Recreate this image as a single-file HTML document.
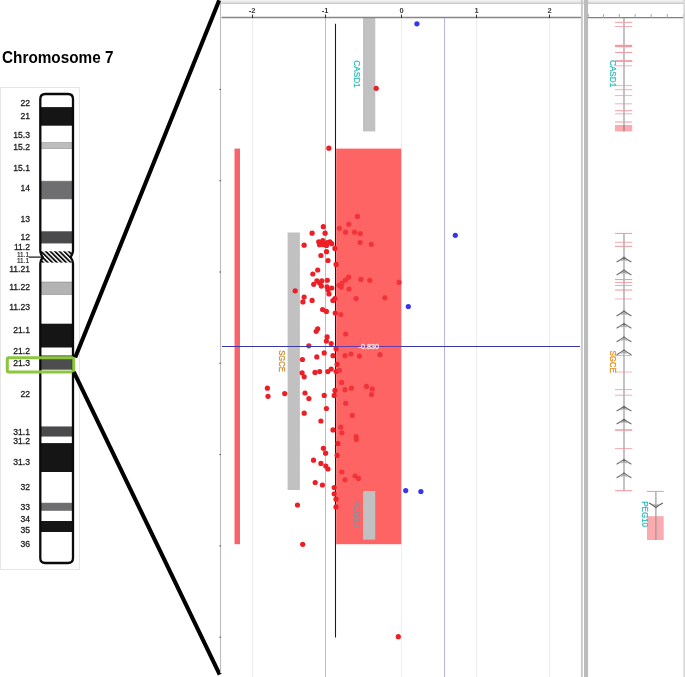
<!DOCTYPE html>
<html><head><meta charset="utf-8"><title>Chromosome 7</title>
<style>
html,body{margin:0;padding:0;background:#fff;}
body{width:685px;height:677px;overflow:hidden;font-family:"Liberation Sans",sans-serif;}
svg{display:block;}
text{font-family:"Liberation Sans",sans-serif;}
</style></head><body>
<svg width="685" height="677" viewBox="0 0 685 677">
<rect width="685" height="677" fill="#fff"/>

<rect x="0.5" y="87.5" width="79" height="482" fill="#fff" stroke="#e6e6e6" stroke-width="1"/>
<text x="2" y="62.8" font-size="16.4" font-weight="bold" fill="#000" textLength="111.5" lengthAdjust="spacingAndGlyphs">Chromosome 7</text>
<text x="30" y="105.7" font-size="8.6" text-anchor="end" fill="#1c1c1c" stroke="#1c1c1c" stroke-width="0.28">22</text>
<text x="30" y="119.0" font-size="8.6" text-anchor="end" fill="#1c1c1c" stroke="#1c1c1c" stroke-width="0.28">21</text>
<text x="30" y="137.6" font-size="8.6" text-anchor="end" fill="#1c1c1c" stroke="#1c1c1c" stroke-width="0.28">15.3</text>
<text x="30" y="150.1" font-size="8.6" text-anchor="end" fill="#1c1c1c" stroke="#1c1c1c" stroke-width="0.28">15.2</text>
<text x="30" y="171.0" font-size="8.6" text-anchor="end" fill="#1c1c1c" stroke="#1c1c1c" stroke-width="0.28">15.1</text>
<text x="30" y="191.2" font-size="8.6" text-anchor="end" fill="#1c1c1c" stroke="#1c1c1c" stroke-width="0.28">14</text>
<text x="30" y="221.5" font-size="8.6" text-anchor="end" fill="#1c1c1c" stroke="#1c1c1c" stroke-width="0.28">13</text>
<text x="30" y="240.2" font-size="8.6" text-anchor="end" fill="#1c1c1c" stroke="#1c1c1c" stroke-width="0.28">12</text>
<text x="30" y="249.9" font-size="8.6" text-anchor="end" fill="#1c1c1c" stroke="#1c1c1c" stroke-width="0.28">11.2</text>
<text x="30" y="272.3" font-size="8.6" text-anchor="end" fill="#1c1c1c" stroke="#1c1c1c" stroke-width="0.28">11.21</text>
<text x="30" y="290.0" font-size="8.6" text-anchor="end" fill="#1c1c1c" stroke="#1c1c1c" stroke-width="0.28">11.22</text>
<text x="30" y="309.9" font-size="8.6" text-anchor="end" fill="#1c1c1c" stroke="#1c1c1c" stroke-width="0.28">11.23</text>
<text x="30" y="333.3" font-size="8.6" text-anchor="end" fill="#1c1c1c" stroke="#1c1c1c" stroke-width="0.28">21.1</text>
<text x="30" y="354.3" font-size="8.6" text-anchor="end" fill="#1c1c1c" stroke="#1c1c1c" stroke-width="0.28">21.2</text>
<text x="30" y="366.3" font-size="8.6" text-anchor="end" fill="#1c1c1c" stroke="#1c1c1c" stroke-width="0.28">21.3</text>
<text x="30" y="397.2" font-size="8.6" text-anchor="end" fill="#1c1c1c" stroke="#1c1c1c" stroke-width="0.28">22</text>
<text x="30" y="434.6" font-size="8.6" text-anchor="end" fill="#1c1c1c" stroke="#1c1c1c" stroke-width="0.28">31.1</text>
<text x="30" y="443.8" font-size="8.6" text-anchor="end" fill="#1c1c1c" stroke="#1c1c1c" stroke-width="0.28">31.2</text>
<text x="30" y="464.7" font-size="8.6" text-anchor="end" fill="#1c1c1c" stroke="#1c1c1c" stroke-width="0.28">31.3</text>
<text x="30" y="490.1" font-size="8.6" text-anchor="end" fill="#1c1c1c" stroke="#1c1c1c" stroke-width="0.28">32</text>
<text x="30" y="510.2" font-size="8.6" text-anchor="end" fill="#1c1c1c" stroke="#1c1c1c" stroke-width="0.28">33</text>
<text x="30" y="521.6" font-size="8.6" text-anchor="end" fill="#1c1c1c" stroke="#1c1c1c" stroke-width="0.28">34</text>
<text x="30" y="532.5" font-size="8.6" text-anchor="end" fill="#1c1c1c" stroke="#1c1c1c" stroke-width="0.28">35</text>
<text x="30" y="547.4" font-size="8.6" text-anchor="end" fill="#1c1c1c" stroke="#1c1c1c" stroke-width="0.28">36</text>
<text x="29" y="256.6" font-size="6.4" text-anchor="end" fill="#1c1c1c" stroke="#1c1c1c" stroke-width="0.15">11.1</text>
<text x="29" y="263.2" font-size="6.4" text-anchor="end" fill="#1c1c1c" stroke="#1c1c1c" stroke-width="0.15">11.1</text>
<line x1="28.7" y1="257.1" x2="42.5" y2="257.1" stroke="#111" stroke-width="1.2"/>
<defs><pattern id="hatch" width="3.25" height="3.25" patternUnits="userSpaceOnUse" patternTransform="rotate(-45)"><rect width="3.25" height="3.25" fill="#fff"/><rect width="1.8" height="3.25" fill="#0c0c0c"/></pattern>
<clipPath id="chrclip"><path d="M40.3 99 Q40.3 94 45.3 94 H68 Q73 94 73 99 V250.8 Q73 253.6 70.6 257.1 Q73 260.6 73 263.4 V558 Q73 563 68 563 H45.3 Q40.3 563 40.3 558 V263.4 Q40.3 260.6 42.7 257.1 Q40.3 253.6 40.3 250.8 Z"/></clipPath></defs>
<g clip-path="url(#chrclip)">
<rect x="39" y="93" width="36" height="472" fill="#fff"/>
<rect x="39" y="107.1" width="36" height="18.6" fill="#151515"/>
<rect x="39" y="142.7" width="36" height="5.8" fill="#bdbdbd" stroke="#7d7d7d" stroke-width="0.5"/>
<rect x="39" y="181.1" width="36" height="17.9" fill="#6e6e70" stroke="#7d7d7d" stroke-width="0.5"/>
<rect x="39" y="231.3" width="36" height="11.9" fill="#4a4a4c" stroke="#7d7d7d" stroke-width="0.5"/>
<rect x="39" y="282" width="36" height="12.5" fill="#b3b3b3" stroke="#7d7d7d" stroke-width="0.5"/>
<rect x="39" y="323.7" width="36" height="23.8" fill="#151515"/>
<rect x="39" y="355.5" width="36" height="14.2" fill="#4d4d4f" stroke="#7d7d7d" stroke-width="0.5"/>
<rect x="39" y="426.6" width="36" height="9.8" fill="#4a4a4c" stroke="#7d7d7d" stroke-width="0.5"/>
<rect x="39" y="443.1" width="36" height="28.9" fill="#151515"/>
<rect x="39" y="503" width="36" height="7.7" fill="#6e6e70" stroke="#7d7d7d" stroke-width="0.5"/>
<rect x="39" y="521" width="36" height="11.0" fill="#151515"/>
<rect x="39" y="251.3" width="36" height="11.3" fill="url(#hatch)"/>
</g>
<path d="M40.3 99 Q40.3 94 45.3 94 H68 Q73 94 73 99 V250.8 Q73 253.6 70.6 257.1 Q73 260.6 73 263.4 V558 Q73 563 68 563 H45.3 Q40.3 563 40.3 558 V263.4 Q40.3 260.6 42.7 257.1 Q40.3 253.6 40.3 250.8 Z" fill="none" stroke="#0a0a0a" stroke-width="2.3"/>
<rect x="7.3" y="357.8" width="66.4" height="14.2" rx="1.5" fill="none" stroke="#8cc63f" stroke-width="3"/>
<line x1="75.2" y1="357.6" x2="219.2" y2="0.3" stroke="#000" stroke-width="4.1"/>
<line x1="73.8" y1="371.8" x2="219.7" y2="674.6" stroke="#000" stroke-width="4.1"/>
<defs><linearGradient id="tg" x1="0" y1="0" x2="0" y2="1"><stop offset="0" stop-color="#f6f6f6"/><stop offset="1" stop-color="#d4d4d4"/></linearGradient></defs>
<rect x="221" y="0" width="464" height="3.6" fill="url(#tg)"/>
<line x1="220.3" y1="3.5" x2="685" y2="3.5" stroke="#cbcbcb" stroke-width="1"/>
<line x1="220.5" y1="3" x2="220.5" y2="673" stroke="#bcbcbc" stroke-width="1.1"/>
<line x1="252.5" y1="18" x2="252.5" y2="677" stroke="#eeeeee" stroke-width="1"/>
<line x1="401.5" y1="18" x2="401.5" y2="677" stroke="#eeeeee" stroke-width="1"/>
<line x1="476.5" y1="18" x2="476.5" y2="677" stroke="#eeeeee" stroke-width="1"/>
<line x1="549.5" y1="18" x2="549.5" y2="677" stroke="#eeeeee" stroke-width="1"/>
<line x1="444.5" y1="18" x2="444.5" y2="677" stroke="#b4b4e6" stroke-width="1"/>
<line x1="325.5" y1="18" x2="325.5" y2="677" stroke="#eaaaaa" stroke-width="1"/>
<line x1="219.4" y1="89.4" x2="221" y2="89.4" stroke="#555" stroke-width="1"/>
<line x1="219.4" y1="180.7" x2="221" y2="180.7" stroke="#555" stroke-width="1"/>
<line x1="219.4" y1="272" x2="221" y2="272" stroke="#555" stroke-width="1"/>
<line x1="219.4" y1="363.3" x2="221" y2="363.3" stroke="#555" stroke-width="1"/>
<line x1="219.4" y1="454.6" x2="221" y2="454.6" stroke="#555" stroke-width="1"/>
<line x1="219.4" y1="545.9" x2="221" y2="545.9" stroke="#555" stroke-width="1"/>
<line x1="219.4" y1="637.2" x2="221" y2="637.2" stroke="#555" stroke-width="1"/>
<rect x="363" y="18" width="12.3" height="113.4" fill="#c1c1c1"/>
<rect x="287.6" y="232.5" width="12.3" height="257.5" fill="#c1c1c1"/>
<rect x="234.5" y="148.6" width="5.5" height="395.6" fill="#f9636b"/>
<rect x="336.2" y="148.6" width="65" height="395.6" fill="#ff6465"/>
<rect x="363" y="491" width="12.2" height="48.6" fill="#c1c1c1"/>
<line x1="335.5" y1="23.7" x2="335.5" y2="637.4" stroke="#1c1c1c" stroke-width="1.05"/>
<line x1="221.6" y1="17.5" x2="581" y2="17.5" stroke="#858585" stroke-width="1.4"/>
<line x1="252.5" y1="14.6" x2="252.5" y2="18" stroke="#333" stroke-width="1"/>
<text x="252.0" y="12.6" font-size="7.5" font-weight="bold" text-anchor="middle" fill="#3a3a3a">-2</text>
<line x1="325.5" y1="14.6" x2="325.5" y2="18" stroke="#333" stroke-width="1"/>
<text x="325.0" y="12.6" font-size="7.5" font-weight="bold" text-anchor="middle" fill="#3a3a3a">-1</text>
<line x1="401.5" y1="14.6" x2="401.5" y2="18" stroke="#333" stroke-width="1"/>
<text x="401.5" y="12.6" font-size="7.5" font-weight="bold" text-anchor="middle" fill="#3a3a3a">0</text>
<line x1="476.5" y1="14.6" x2="476.5" y2="18" stroke="#333" stroke-width="1"/>
<text x="476.5" y="12.6" font-size="7.5" font-weight="bold" text-anchor="middle" fill="#3a3a3a">1</text>
<line x1="549.5" y1="14.6" x2="549.5" y2="18" stroke="#333" stroke-width="1"/>
<text x="549.5" y="12.6" font-size="7.5" font-weight="bold" text-anchor="middle" fill="#3a3a3a">2</text>
<text transform="translate(353.6,60.3) rotate(90)" font-size="8.2" fill="#2bbdbc" stroke="#2bbdbc" stroke-width="0.25" textLength="27.3" lengthAdjust="spacingAndGlyphs">CASD1</text>
<text transform="translate(278.5,350.2) rotate(90)" font-size="8.3" fill="#cc903a" stroke="#cc903a" stroke-width="0.35" textLength="21.6" lengthAdjust="spacingAndGlyphs">SGCE</text>
<text transform="translate(354.2,500.5) rotate(90)" font-size="8.2" fill="#7d93a6" stroke="#7d93a6" stroke-width="0.25" textLength="26.5" lengthAdjust="spacingAndGlyphs">PEG10</text>
<circle cx="357.5" cy="216.4" r="2.6" fill="#f0343a"/>
<circle cx="348.8" cy="224.3" r="2.6" fill="#f0343a"/>
<circle cx="323.3" cy="226.7" r="2.6" fill="#ec1e26"/>
<circle cx="339.4" cy="228.3" r="2.6" fill="#f0343a"/>
<circle cx="345.6" cy="232.2" r="2.6" fill="#f0343a"/>
<circle cx="354.6" cy="232.2" r="2.6" fill="#f0343a"/>
<circle cx="360.2" cy="233.6" r="2.6" fill="#f0343a"/>
<circle cx="312.1" cy="233.2" r="2.6" fill="#ec1e26"/>
<circle cx="325.1" cy="233.2" r="2.6" fill="#ec1e26"/>
<circle cx="360.1" cy="242.5" r="2.6" fill="#f0343a"/>
<circle cx="371.3" cy="244.3" r="2.6" fill="#f0343a"/>
<circle cx="304.1" cy="245.2" r="2.6" fill="#ec1e26"/>
<circle cx="318.7" cy="241.8" r="2.6" fill="#ec1e26"/>
<circle cx="322.8" cy="240.7" r="2.6" fill="#ec1e26"/>
<circle cx="319.6" cy="244.7" r="2.6" fill="#ec1e26"/>
<circle cx="323.6" cy="244.7" r="2.6" fill="#ec1e26"/>
<circle cx="326.5" cy="245.5" r="2.6" fill="#ec1e26"/>
<circle cx="329.9" cy="241.8" r="2.6" fill="#ec1e26"/>
<circle cx="331.7" cy="243.7" r="2.6" fill="#ec1e26"/>
<circle cx="327.3" cy="242.5" r="2.6" fill="#ec1e26"/>
<circle cx="334.9" cy="248.4" r="2.6" fill="#ec1e26"/>
<circle cx="326.5" cy="251.7" r="2.6" fill="#ec1e26"/>
<circle cx="320.9" cy="255.5" r="2.6" fill="#ec1e26"/>
<circle cx="328" cy="260.5" r="2.6" fill="#ec1e26"/>
<circle cx="336.1" cy="264.4" r="2.6" fill="#ec1e26"/>
<circle cx="317.7" cy="270" r="2.6" fill="#ec1e26"/>
<circle cx="312.8" cy="274" r="2.6" fill="#ec1e26"/>
<circle cx="327.3" cy="280.3" r="2.6" fill="#ec1e26"/>
<circle cx="360.9" cy="279.4" r="2.6" fill="#f0343a"/>
<circle cx="369.8" cy="280.3" r="2.6" fill="#f0343a"/>
<circle cx="339" cy="285.3" r="2.6" fill="#f0343a"/>
<circle cx="342" cy="283" r="2.6" fill="#f0343a"/>
<circle cx="345.5" cy="280" r="2.6" fill="#f0343a"/>
<circle cx="348.7" cy="277.2" r="2.6" fill="#f0343a"/>
<circle cx="313.7" cy="284.3" r="2.6" fill="#ec1e26"/>
<circle cx="316.9" cy="280.9" r="2.6" fill="#ec1e26"/>
<circle cx="319.6" cy="283.1" r="2.6" fill="#ec1e26"/>
<circle cx="321.8" cy="280.9" r="2.6" fill="#ec1e26"/>
<circle cx="321.4" cy="286.1" r="2.6" fill="#ec1e26"/>
<circle cx="327" cy="286.8" r="2.6" fill="#ec1e26"/>
<circle cx="328" cy="289.8" r="2.6" fill="#ec1e26"/>
<circle cx="331.7" cy="288" r="2.6" fill="#ec1e26"/>
<circle cx="329" cy="293.9" r="2.6" fill="#ec1e26"/>
<circle cx="341.3" cy="287.1" r="2.6" fill="#f0343a"/>
<circle cx="349" cy="289" r="2.6" fill="#f0343a"/>
<circle cx="295.2" cy="290.8" r="2.6" fill="#ec1e26"/>
<circle cx="356.1" cy="298.6" r="2.6" fill="#f0343a"/>
<circle cx="304.1" cy="297.1" r="2.6" fill="#ec1e26"/>
<circle cx="302.9" cy="301.9" r="2.6" fill="#ec1e26"/>
<circle cx="312.1" cy="300.4" r="2.6" fill="#ec1e26"/>
<circle cx="334.9" cy="298.6" r="2.6" fill="#ec1e26"/>
<circle cx="332.9" cy="300.5" r="2.6" fill="#ec1e26"/>
<circle cx="322.6" cy="309.6" r="2.6" fill="#ec1e26"/>
<circle cx="326.4" cy="311.4" r="2.6" fill="#ec1e26"/>
<circle cx="335.2" cy="313" r="2.6" fill="#ec1e26"/>
<circle cx="340.8" cy="314.5" r="2.6" fill="#f0343a"/>
<circle cx="317.7" cy="328.8" r="2.6" fill="#ec1e26"/>
<circle cx="316.2" cy="331.3" r="2.6" fill="#ec1e26"/>
<circle cx="345.7" cy="334" r="2.6" fill="#f0343a"/>
<circle cx="327.1" cy="336.9" r="2.6" fill="#ec1e26"/>
<circle cx="326.4" cy="341.1" r="2.6" fill="#ec1e26"/>
<circle cx="331.2" cy="343.6" r="2.6" fill="#ec1e26"/>
<circle cx="308.8" cy="345.8" r="2.6" fill="#ec1e26"/>
<circle cx="336.1" cy="348.7" r="2.6" fill="#ec1e26"/>
<circle cx="324.2" cy="352.9" r="2.6" fill="#ec1e26"/>
<circle cx="316.8" cy="356.9" r="2.6" fill="#ec1e26"/>
<circle cx="333" cy="355.7" r="2.6" fill="#ec1e26"/>
<circle cx="345" cy="355.7" r="2.6" fill="#f0343a"/>
<circle cx="351" cy="354" r="2.6" fill="#f0343a"/>
<circle cx="302.4" cy="359.5" r="2.6" fill="#ec1e26"/>
<circle cx="337.1" cy="364.3" r="2.6" fill="#ec1e26"/>
<circle cx="331.2" cy="369" r="2.6" fill="#ec1e26"/>
<circle cx="327.8" cy="371.6" r="2.6" fill="#ec1e26"/>
<circle cx="319.7" cy="371.6" r="2.6" fill="#ec1e26"/>
<circle cx="315" cy="372.4" r="2.6" fill="#ec1e26"/>
<circle cx="302.1" cy="372.8" r="2.6" fill="#ec1e26"/>
<circle cx="304.2" cy="376.8" r="2.6" fill="#ec1e26"/>
<circle cx="336.1" cy="371.6" r="2.6" fill="#ec1e26"/>
<circle cx="339.4" cy="370.4" r="2.6" fill="#f0343a"/>
<circle cx="341.6" cy="382.4" r="2.6" fill="#f0343a"/>
<circle cx="267.4" cy="388.2" r="2.6" fill="#ec1e26"/>
<circle cx="268" cy="396.3" r="2.6" fill="#ec1e26"/>
<circle cx="284.7" cy="393.6" r="2.6" fill="#ec1e26"/>
<circle cx="305" cy="393" r="2.6" fill="#ec1e26"/>
<circle cx="308.9" cy="398.6" r="2.6" fill="#ec1e26"/>
<circle cx="324.2" cy="395.4" r="2.6" fill="#ec1e26"/>
<circle cx="335" cy="390.4" r="2.6" fill="#ec1e26"/>
<circle cx="334.2" cy="395.4" r="2.6" fill="#ec1e26"/>
<circle cx="345" cy="389.7" r="2.6" fill="#f0343a"/>
<circle cx="351.4" cy="388.2" r="2.6" fill="#f0343a"/>
<circle cx="384.8" cy="297.8" r="2.6" fill="#f0343a"/>
<circle cx="359.4" cy="356.1" r="2.6" fill="#f0343a"/>
<circle cx="380" cy="354.7" r="2.6" fill="#f0343a"/>
<circle cx="366.5" cy="386.4" r="2.6" fill="#f0343a"/>
<circle cx="372.2" cy="388.9" r="2.6" fill="#f0343a"/>
<circle cx="371.5" cy="394.6" r="2.6" fill="#f0343a"/>
<circle cx="345.7" cy="403.3" r="2.6" fill="#f0343a"/>
<circle cx="326.4" cy="408.5" r="2.6" fill="#ec1e26"/>
<circle cx="304.2" cy="413.2" r="2.6" fill="#ec1e26"/>
<circle cx="320.9" cy="421" r="2.6" fill="#ec1e26"/>
<circle cx="333" cy="429.9" r="2.6" fill="#ec1e26"/>
<circle cx="340.8" cy="427.2" r="2.6" fill="#f0343a"/>
<circle cx="341.9" cy="432.8" r="2.6" fill="#f0343a"/>
<circle cx="337.9" cy="443.5" r="2.6" fill="#ec1e26"/>
<circle cx="323.4" cy="448.3" r="2.6" fill="#ec1e26"/>
<circle cx="325.6" cy="453.2" r="2.6" fill="#ec1e26"/>
<circle cx="337.1" cy="455.3" r="2.6" fill="#ec1e26"/>
<circle cx="313.5" cy="460.2" r="2.6" fill="#ec1e26"/>
<circle cx="320.9" cy="463.4" r="2.6" fill="#ec1e26"/>
<circle cx="325.8" cy="466.1" r="2.6" fill="#ec1e26"/>
<circle cx="328" cy="469" r="2.6" fill="#ec1e26"/>
<circle cx="341.8" cy="472" r="2.6" fill="#f0343a"/>
<circle cx="345" cy="479.8" r="2.6" fill="#f0343a"/>
<circle cx="315.2" cy="482.5" r="2.6" fill="#ec1e26"/>
<circle cx="322.4" cy="485" r="2.6" fill="#ec1e26"/>
<circle cx="334.2" cy="487.5" r="2.6" fill="#ec1e26"/>
<circle cx="352.3" cy="415.4" r="2.6" fill="#f0343a"/>
<circle cx="356.1" cy="436.5" r="2.6" fill="#f0343a"/>
<circle cx="356.4" cy="439.5" r="2.6" fill="#f0343a"/>
<circle cx="355" cy="476" r="2.6" fill="#f0343a"/>
<circle cx="358.5" cy="478.4" r="2.6" fill="#f0343a"/>
<circle cx="399.1" cy="282.4" r="2.6" fill="#f0343a"/>
<circle cx="334.2" cy="493.8" r="2.6" fill="#ec1e26"/>
<circle cx="336" cy="499.2" r="2.6" fill="#ec1e26"/>
<circle cx="336" cy="506.9" r="2.6" fill="#ec1e26"/>
<circle cx="297.5" cy="505" r="2.6" fill="#ec1e26"/>
<circle cx="302.7" cy="544.3" r="2.6" fill="#ec1e26"/>
<circle cx="376.2" cy="88.3" r="2.6" fill="#ec1e26"/>
<circle cx="328.9" cy="148.2" r="2.6" fill="#ec1e26"/>
<circle cx="398.3" cy="636.7" r="2.6" fill="#ec1e26"/>
<circle cx="416.9" cy="23.8" r="2.6" fill="#3636ee"/>
<circle cx="455.3" cy="235.3" r="2.6" fill="#3636ee"/>
<circle cx="408.3" cy="306.5" r="2.6" fill="#3636ee"/>
<circle cx="405.7" cy="490.6" r="2.6" fill="#3636ee"/>
<circle cx="420.9" cy="491.5" r="2.6" fill="#3636ee"/>
<line x1="222" y1="346.5" x2="580" y2="346.5" stroke="#3838a8" stroke-width="1.2"/>
<line x1="336.2" y1="346.5" x2="401.2" y2="346.5" stroke="#6a3aa8" stroke-width="1.1"/>
<text x="358.6" y="349.3" font-size="7.6" fill="#ffe4e4" stroke="#ffe4e4" stroke-width="0.3" textLength="20.4" lengthAdjust="spacingAndGlyphs">-0.830</text>
<rect x="580.9" y="0" width="1.9" height="677" fill="#c8c8c8"/>
<rect x="584" y="0" width="4.1" height="677" fill="#bcbcbc"/>
<line x1="587.8" y1="17.6" x2="683.8" y2="17.6" stroke="#808080" stroke-width="1.4"/>
<line x1="588.2" y1="14" x2="588.2" y2="17.6" stroke="#a8a8a8" stroke-width="1"/>
<line x1="603.5" y1="14" x2="603.5" y2="17.6" stroke="#a8a8a8" stroke-width="1"/>
<line x1="619.3" y1="14" x2="619.3" y2="17.6" stroke="#a8a8a8" stroke-width="1"/>
<line x1="635.1" y1="14" x2="635.1" y2="17.6" stroke="#a8a8a8" stroke-width="1"/>
<line x1="651.1" y1="14" x2="651.1" y2="17.6" stroke="#a8a8a8" stroke-width="1"/>
<line x1="667.3" y1="14" x2="667.3" y2="17.6" stroke="#a8a8a8" stroke-width="1"/>
<line x1="683.4" y1="14" x2="683.4" y2="17.6" stroke="#a8a8a8" stroke-width="1"/>
<rect x="683.3" y="0" width="1.7" height="677" fill="#d9d9d9"/>
<line x1="624" y1="18" x2="624" y2="131.3" stroke="#969696" stroke-width="1.15"/>
<line x1="615" y1="22.3" x2="632.2" y2="22.3" stroke="#f29ba3" stroke-width="1"/>
<line x1="615" y1="26.5" x2="632.2" y2="26.5" stroke="#f29ba3" stroke-width="0.8"/>
<line x1="615" y1="46" x2="632.2" y2="46" stroke="#f29ba3" stroke-width="2.4"/>
<line x1="615" y1="52.5" x2="632.2" y2="52.5" stroke="#f29ba3" stroke-width="1"/>
<line x1="615" y1="61" x2="632.2" y2="61" stroke="#f29ba3" stroke-width="1.8"/>
<line x1="615" y1="65.8" x2="632.2" y2="65.8" stroke="#f29ba3" stroke-width="0.8"/>
<line x1="615" y1="85.6" x2="632.2" y2="85.6" stroke="#f29ba3" stroke-width="0.8"/>
<line x1="615" y1="89.7" x2="632.2" y2="89.7" stroke="#f29ba3" stroke-width="0.8"/>
<line x1="615" y1="95.6" x2="632.2" y2="95.6" stroke="#f29ba3" stroke-width="0.8"/>
<line x1="615" y1="103.8" x2="632.2" y2="103.8" stroke="#f29ba3" stroke-width="0.8"/>
<line x1="615" y1="110.7" x2="632.2" y2="110.7" stroke="#f29ba3" stroke-width="1"/>
<line x1="615" y1="113.8" x2="632.2" y2="113.8" stroke="#f29ba3" stroke-width="0.8"/>
<line x1="615" y1="122" x2="632.2" y2="122" stroke="#f29ba3" stroke-width="1"/>
<rect x="615" y="125" width="17.2" height="6.4" fill="#fbabaf"/>
<line x1="624" y1="125" x2="624" y2="131.3" stroke="#8e6e72" stroke-width="1"/>
<text transform="translate(609.8,60) rotate(90)" font-size="8.2" fill="#2bbdbc" stroke="#2bbdbc" stroke-width="0.25" textLength="27.3" lengthAdjust="spacingAndGlyphs">CASD1</text>
<line x1="624" y1="233.4" x2="624" y2="490.7" stroke="#969696" stroke-width="1.15"/>
<line x1="615" y1="233.4" x2="632.2" y2="233.4" stroke="#f0959d" stroke-width="1"/>
<line x1="615" y1="242.3" x2="632.2" y2="242.3" stroke="#f0959d" stroke-width="0.8"/>
<line x1="615" y1="246.3" x2="632.2" y2="246.3" stroke="#f0959d" stroke-width="1"/>
<line x1="615" y1="279.6" x2="632.2" y2="279.6" stroke="#f0959d" stroke-width="1"/>
<line x1="615" y1="282.5" x2="632.2" y2="282.5" stroke="#f0959d" stroke-width="0.8"/>
<line x1="615" y1="285.5" x2="632.2" y2="285.5" stroke="#f0959d" stroke-width="0.8"/>
<line x1="615" y1="290" x2="632.2" y2="290" stroke="#f0959d" stroke-width="1"/>
<line x1="615" y1="299" x2="632.2" y2="299" stroke="#f0959d" stroke-width="0.7"/>
<line x1="615" y1="355.5" x2="632.2" y2="355.5" stroke="#f0959d" stroke-width="0.8"/>
<line x1="615" y1="372" x2="632.2" y2="372" stroke="#f0959d" stroke-width="0.7"/>
<line x1="615" y1="389.6" x2="632.2" y2="389.6" stroke="#f0959d" stroke-width="0.8"/>
<line x1="615" y1="395.2" x2="632.2" y2="395.2" stroke="#f0959d" stroke-width="0.8"/>
<line x1="615" y1="430" x2="632.2" y2="430" stroke="#f0959d" stroke-width="1.4"/>
<line x1="615" y1="448.6" x2="632.2" y2="448.6" stroke="#f0959d" stroke-width="0.8"/>
<line x1="615" y1="490.7" x2="632.2" y2="490.7" stroke="#f0959d" stroke-width="1"/>
<path d="M616.6 262.1 Q621 259.8 624 257.2 Q627 259.8 631.4 262.1" fill="none" stroke="#6c6c6c" stroke-width="1.15"/>
<path d="M621.4 260.9 L624 259.1 L626.6 260.9" fill="none" stroke="#7a7a7a" stroke-width="0.8"/>
<path d="M616.6 274.9 Q621 272.6 624 270 Q627 272.6 631.4 274.9" fill="none" stroke="#6c6c6c" stroke-width="1.15"/>
<path d="M621.4 273.7 L624 271.9 L626.6 273.7" fill="none" stroke="#7a7a7a" stroke-width="0.8"/>
<path d="M616.6 315.9 Q621 313.6 624 311 Q627 313.6 631.4 315.9" fill="none" stroke="#6c6c6c" stroke-width="1.15"/>
<path d="M621.4 314.7 L624 312.9 L626.6 314.7" fill="none" stroke="#7a7a7a" stroke-width="0.8"/>
<path d="M616.6 328.3 Q621 326.0 624 323.4 Q627 326.0 631.4 328.3" fill="none" stroke="#6c6c6c" stroke-width="1.15"/>
<path d="M621.4 327.1 L624 325.3 L626.6 327.1" fill="none" stroke="#7a7a7a" stroke-width="0.8"/>
<path d="M616.6 341.8 Q621 339.5 624 336.9 Q627 339.5 631.4 341.8" fill="none" stroke="#6c6c6c" stroke-width="1.15"/>
<path d="M621.4 340.6 L624 338.8 L626.6 340.6" fill="none" stroke="#7a7a7a" stroke-width="0.8"/>
<path d="M616.6 354.8 Q621 352.5 624 349.9 Q627 352.5 631.4 354.8" fill="none" stroke="#6c6c6c" stroke-width="1.15"/>
<path d="M621.4 353.6 L624 351.8 L626.6 353.6" fill="none" stroke="#7a7a7a" stroke-width="0.8"/>
<path d="M616.6 411.1 Q621 408.8 624 406.2 Q627 408.8 631.4 411.1" fill="none" stroke="#6c6c6c" stroke-width="1.15"/>
<path d="M621.4 409.9 L624 408.1 L626.6 409.9" fill="none" stroke="#7a7a7a" stroke-width="0.8"/>
<path d="M616.6 424.1 Q621 421.8 624 419.2 Q627 421.8 631.4 424.1" fill="none" stroke="#6c6c6c" stroke-width="1.15"/>
<path d="M621.4 422.9 L624 421.1 L626.6 422.9" fill="none" stroke="#7a7a7a" stroke-width="0.8"/>
<path d="M616.6 464.3 Q621 462.0 624 459.4 Q627 462.0 631.4 464.3" fill="none" stroke="#6c6c6c" stroke-width="1.15"/>
<path d="M621.4 463.1 L624 461.3 L626.6 463.1" fill="none" stroke="#7a7a7a" stroke-width="0.8"/>
<path d="M616.6 477.8 Q621 475.5 624 472.9 Q627 475.5 631.4 477.8" fill="none" stroke="#6c6c6c" stroke-width="1.15"/>
<path d="M621.4 476.6 L624 474.8 L626.6 476.6" fill="none" stroke="#7a7a7a" stroke-width="0.8"/>
<text transform="translate(610.4,350.5) rotate(90)" font-size="8.5" fill="#e58c1c" stroke="#e58c1c" stroke-width="0.3" textLength="22.2" lengthAdjust="spacingAndGlyphs">SGCE</text>
<rect x="647" y="516.2" width="16.7" height="23.8" fill="#fbabaf"/>
<line x1="655.9" y1="491.4" x2="655.9" y2="540" stroke="#969696" stroke-width="1.15"/>
<line x1="647" y1="491.4" x2="663.7" y2="491.4" stroke="#f0959d" stroke-width="1"/>
<path d="M649.2 503 Q652.6 504.9 655.9 507.6 Q659.2 504.9 662.8 503" fill="none" stroke="#5a5a5a" stroke-width="1.15"/>
<path d="M653.4 504.2 L655.9 505.9 L658.4 504.2" fill="none" stroke="#7a7a7a" stroke-width="0.8"/>
<text transform="translate(641.9,501.3) rotate(90)" font-size="8.2" fill="#2bbdbc" stroke="#2bbdbc" stroke-width="0.25" textLength="25.7" lengthAdjust="spacingAndGlyphs">PEG10</text>
</svg></body></html>
